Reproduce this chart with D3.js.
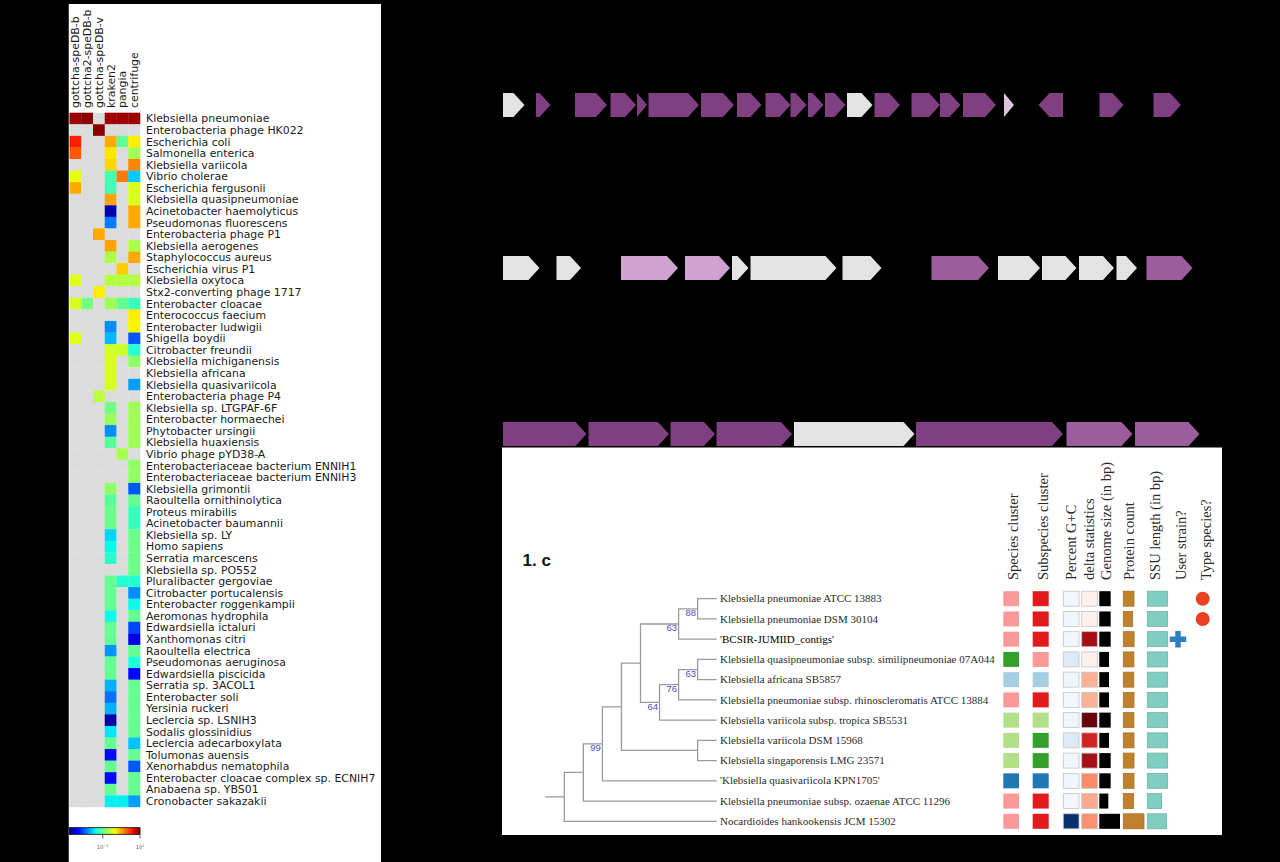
<!DOCTYPE html>
<html>
<head>
<meta charset="utf-8">
<title>Figure 1</title>
<script src="https://d3js.org/d3.v7.min.js"></script>
<style>
body { margin: 0; background: #000; }
</style>
</head>
<body>
<script>
// ---------- heatmap data (log10 relative abundance, null = not detected) ----------
const n = null;
const methods = ["gottcha-speDB-b", "gottcha2-speDB-b", "gottcha-speDB-v", "kraken2", "pangia", "centrifuge"];
const species = [
  "Klebsiella pneumoniae", "Enterobacteria phage HK022", "Escherichia coli", "Salmonella enterica",
  "Klebsiella variicola", "Vibrio cholerae", "Escherichia fergusonii", "Klebsiella quasipneumoniae",
  "Acinetobacter haemolyticus", "Pseudomonas fluorescens", "Enterobacteria phage P1", "Klebsiella aerogenes",
  "Staphylococcus aureus", "Escherichia virus P1", "Klebsiella oxytoca", "Stx2-converting phage 1717",
  "Enterobacter cloacae", "Enterococcus faecium", "Enterobacter ludwigii", "Shigella boydii",
  "Citrobacter freundii", "Klebsiella michiganensis", "Klebsiella africana", "Klebsiella quasivariicola",
  "Enterobacteria phage P4", "Klebsiella sp. LTGPAF-6F", "Enterobacter hormaechei", "Phytobacter ursingii",
  "Klebsiella huaxiensis", "Vibrio phage pYD38-A", "Enterobacteriaceae bacterium ENNIH1", "Enterobacteriaceae bacterium ENNIH3",
  "Klebsiella grimontii", "Raoultella ornithinolytica", "Proteus mirabilis", "Acinetobacter baumannii",
  "Klebsiella sp. LY", "Homo sapiens", "Serratia marcescens", "Klebsiella sp. PO552",
  "Pluralibacter gergoviae", "Citrobacter portucalensis", "Enterobacter roggenkampii", "Aeromonas hydrophila",
  "Edwardsiella ictaluri", "Xanthomonas citri", "Raoultella electrica", "Pseudomonas aeruginosa",
  "Edwardsiella piscicida", "Serratia sp. 3ACOL1", "Enterobacter soli", "Yersinia ruckeri",
  "Leclercia sp. LSNIH3", "Sodalis glossinidius", "Leclercia adecarboxylata", "Tolumonas auensis",
  "Xenorhabdus nematophila", "Enterobacter cloacae complex sp. ECNIH7", "Anabaena sp. YBS01", "Cronobacter sakazakii"
];
const gottchaB = [
  1.85, n, 1.32, 0.97, n, -0.11, 0.46, n, n, n,
  n, n, n, n, -0.15, n, -0.2, n, n, -0.15,
  n, n, n, n, n, n, n, n, n, n,
  n, n, n, n, n, n, n, n, n, n,
  n, n, n, n, n, n, n, n, n, n,
  n, n, n, n, n, n, n, n, n, n
];
const gottcha2B = [
  1.95, n, n, n, n, n, n, n, n, n,
  n, n, n, n, n, n, -0.9, n, n, n,
  n, n, n, n, n, n, n, n, n, n,
  n, n, n, n, n, n, n, n, n, n,
  n, n, n, n, n, n, n, n, n, n,
  n, n, n, n, n, n, n, n, n, n
];
const gottchaV = [
  n, 1.95, n, n, n, n, n, n, n, n,
  0.46, n, n, n, n, 0.05, n, n, n, n,
  n, n, n, n, -0.4, n, n, n, n, n,
  n, n, n, n, n, n, n, n, n, n,
  n, n, n, n, n, n, n, n, n, n,
  n, n, n, n, n, n, n, n, n, n
];
const kraken2 = [
  1.85, n, 0.46, 0.10, 0.2, -1.2, -1.25, 0.5, -3.45, -2.3,
  n, 0.5, -0.5, n, -0.45, n, -0.6, n, -2.2, -1.95,
  -0.25, -0.2, -0.2, -0.2, n, -0.9, -0.65, -2.2, -1.1, n,
  n, n, -0.7, -1.1, -0.95, -0.95, -1.8, -1.6, -1.4, n,
  -1.0, -1.0, -1.0, -1.6, -1.0, -1.0, -2.15, -1.0, -1.0, -2.0,
  -2.35, -2.0, -3.5, -1.7, -1.0, -2.95, -1.0, -2.95, -1.0, -1.65
];
const pangia = [
  1.85, n, -1.02, n, n, 0.75, n, n, n, n,
  n, n, n, 0.25, -0.45, n, -1.0, n, n, n,
  -0.3, n, n, n, n, n, n, n, n, -0.55,
  n, n, n, n, n, n, n, n, n, n,
  -1.45, n, n, n, n, n, n, n, n, n,
  n, n, n, n, n, n, n, n, n, -1.65
];
const centrifuge = [
  1.85, n, 0.05, -0.57, 0.69, -1.85, -0.2, -0.2, 0.46, 0.46,
  n, -0.5, 0.46, n, -0.45, n, -1.3, 0.05, 0.0, -2.5,
  -1.45, -0.7, n, -2.1, n, -0.6, -0.6, -0.6, -0.6, n,
  -0.7, -0.7, -2.5, -1.0, -1.3, -1.3, -0.95, -0.95, -0.95, -0.95,
  -1.45, -2.2, -1.6, -1.0, -2.6, -3.2, -1.0, -1.5, -2.95, -1.0,
  -1.0, -1.0, -1.0, -1.0, -1.9, -1.0, -2.5, -1.0, -1.0, -2.1
];
const colorDomain = [-3.7, 2];
const colorTicks = [-1, 2];

// ---------- gene neighbourhood data: [start, end, strand, class] ----------
const genesRow1 = [
  [0, 430, 1, "grey"], [660, 950, 1, "dark"], [1440, 2080, 1, "dark"], [2150, 2660, 1, "dark"],
  [2680, 2880, 1, "dark"], [2910, 3920, 1, "dark"], [3960, 4620, 1, "dark"], [4680, 5170, 1, "dark"],
  [5250, 5750, 1, "dark"], [5750, 6070, 1, "dark"], [6100, 6410, 1, "dark"], [6440, 6850, 1, "dark"],
  [6880, 7390, 1, "grey"], [7430, 7940, 1, "dark"], [8170, 8740, 1, "dark"], [8740, 9150, 1, "dark"],
  [9200, 9860, 1, "dark"], [10020, 10220, 1, "pale"], [10710, 11200, -1, "dark"], [11930, 12410, 1, "dark"],
  [13010, 13560, 1, "dark"]
];
const genesRow2 = [
  [0, 730, 1, "grey"], [1070, 1560, 1, "grey"], [2360, 3500, 1, "light"], [3640, 4540, 1, "light"],
  [4580, 4910, 1, "grey"], [4950, 6670, 1, "grey"], [6790, 7570, 1, "grey"], [8570, 9720, 1, "mid"],
  [9900, 10740, 1, "grey"], [10780, 11470, 1, "grey"], [11520, 12220, 1, "grey"], [12270, 12680, 1, "grey"],
  [12870, 13790, 1, "mid"]
];
const genesRow3 = [
  [0, 1670, 1, "dark"], [1710, 3320, 1, "dark"], [3350, 4240, 1, "dark"], [4270, 5780, 1, "dark"],
  [5820, 8230, 1, "grey"], [8260, 11200, 1, "dark"], [11270, 12590, 1, "mid"], [12640, 13930, 1, "mid"]
];
const geneClasses = ["dark", "mid", "light", "pale", "grey"];
const geneColors = ["#7f3f80", "#9b5d9c", "#cfa2cf", "#dcc2dc", "#e3e3e3"];

// ---------- phylogeny data ----------
const L = name => ({ name: name });
const treeData = { children: [
  { children: [
    { boot: 99, children: [
      { children: [
        { children: [
          { boot: 63, children: [
            { boot: 88, children: [L("Klebsiella pneumoniae ATCC 13883"), L("Klebsiella pneumoniae DSM 30104")] },
            L("'BCSIR-JUMIID_contigs'")
          ] },
          { boot: 64, children: [
            { boot: 76, children: [
              { boot: 63, children: [L("Klebsiella quasipneumoniae subsp. similipneumoniae 07A044"), L("Klebsiella africana SB5857")] },
              L("Klebsiella pneumoniae subsp. rhinoscleromatis ATCC 13884")
            ] },
            L("Klebsiella variicola subsp. tropica SB5531")
          ] }
        ] },
        { children: [L("Klebsiella variicola DSM 15968"), L("Klebsiella singaporensis LMG 23571")] }
      ] },
      L("'Klebsiella quasivariicola KPN1705'")
    ] },
    L("Klebsiella pneumoniae subsp. ozaenae ATCC 11296")
  ] },
  L("Nocardioides hankookensis JCM 15302")
] };
const metaHeaders = ["Species cluster", "Subspecies cluster", "Percent G+C", "delta statistics",
  "Genome size (in bp)", "Protein count", "SSU length (in bp)", "User strain?", "Type species?"];
const speciesCluster = [4, 4, 4, 3, 0, 4, 2, 2, 2, 1, 4, 4];
const subspeciesCluster = [5, 5, 5, 4, 0, 5, 2, 3, 3, 1, 5, 5];
const gcContent = [56.5, 56.6, 56.5, 58.2, 56.7, 56.5, 56.6, 58.2, 56.7, 56.6, 56.5, 73.0];
const deltaStat = [0.02, 0.03, 0.86, 0.03, 0.28, 0.28, 1.0, 0.72, 0.86, 0.40, 0.30, 0.38];
const genomeSize = [5.5, 5.5, 5.5, 4.7, 4.7, 4.7, 5.5, 4.7, 5.5, 5.5, 4.35, 10.0];
const proteinCount = [5300, 4650, 5350, 5250, 5200, 5300, 5250, 5300, 5300, 5300, 5100, 10250];
const ssuLength = [1520, 1520, 1520, 1520, 1520, 1520, 1520, 1520, 1520, 1520, 1070, 1445];
const userStrain = [0, 0, 1, 0, 0, 0, 0, 0, 0, 0, 0, 0];
const typeSpecies = [1, 1, 0, 0, 0, 0, 0, 0, 0, 0, 0, 0];

// ---------- canvas ----------
const svg = d3.select("body").append("svg")
  .attr("width", 1280).attr("height", 862)
  .style("display", "block");
svg.append("rect").attr("width", 1280).attr("height", 862).attr("fill", "#000");

// jet colormap (matplotlib)
const jetR = d3.scaleLinear().domain([0, 0.35, 0.66, 0.89, 1]).range([0, 0, 1, 1, 0.5]).clamp(true);
const jetG = d3.scaleLinear().domain([0, 0.125, 0.375, 0.64, 0.91, 1]).range([0, 0, 1, 1, 0, 0]).clamp(true);
const jetB = d3.scaleLinear().domain([0, 0.11, 0.34, 0.65, 1]).range([0.5, 1, 1, 0, 0]).clamp(true);
function jet(t) { return d3.rgb(jetR(t) * 255, jetG(t) * 255, jetB(t) * 255).formatHex(); }
const tScale = d3.scaleLinear().domain(colorDomain).range([0, 1]).clamp(true);

// ---------- left panel: heatmap ----------
const defs = svg.append("defs");
defs.append("clipPath").attr("id", "leftclip")
  .append("rect").attr("x", 68.5).attr("y", 4).attr("width", 312.5).attr("height", 858);

const left = svg.append("g").attr("clip-path", "url(#leftclip)");
left.append("rect").attr("x", 68.5).attr("y", 4).attr("width", 312.5).attr("height", 858).attr("fill", "#fff");

const hx = d3.scaleBand().domain(methods).range([69.5, 140]);
const hy = d3.scaleBand().domain(species).range([112.7, 806.9]);
const columns = [gottchaB, gottcha2B, gottchaV, kraken2, pangia, centrifuge];

const cells = [];
species.forEach((s, i) => columns.forEach((col, j) => cells.push({ s: s, m: methods[j], v: col[i] })));

left.append("g").selectAll("rect")
  .data(cells)
  .join("rect")
  .attr("x", d => hx(d.m))
  .attr("y", d => hy(d.s))
  .attr("width", hx.bandwidth() + 0.3)
  .attr("height", hy.bandwidth() + 0.3)
  .attr("fill", d => d.v == null ? "#dcdcdc" : jet(tScale(d.v)));

left.append("g").selectAll("text")
  .data(species)
  .join("text")
  .attr("x", 146)
  .attr("y", d => hy(d) + hy.bandwidth() / 2)
  .attr("dy", "0.36em")
  .attr("font-family", "DejaVu Sans")
  .attr("font-size", 10.9)
  .attr("fill", "#1a1a1a")
  .text(d => d);

left.append("g").selectAll("text")
  .data(methods)
  .join("text")
  .attr("transform", d => "translate(" + (hx(d) + hx.bandwidth() / 2 + 4) + ",108) rotate(-90)")
  .attr("font-family", "DejaVu Sans")
  .attr("font-size", 10.9)
  .attr("fill", "#1a1a1a")
  .text(d => d);

// colour bar
const grad = defs.append("linearGradient").attr("id", "jetgrad");
grad.selectAll("stop")
  .data(d3.range(0, 1.0001, 0.02))
  .join("stop")
  .attr("offset", d => d)
  .attr("stop-color", d => jet(d));
const cbx = d3.scaleLinear().domain(colorDomain).range([69.3, 140]);
left.append("rect")
  .attr("x", cbx(colorDomain[0])).attr("y", 827.7)
  .attr("width", cbx(colorDomain[1]) - cbx(colorDomain[0])).attr("height", 6.6)
  .attr("fill", "url(#jetgrad)")
  .attr("stroke", "#000").attr("stroke-width", 0.8);
const cbt = left.append("g").selectAll("g")
  .data(colorTicks)
  .join("g")
  .attr("transform", d => "translate(" + cbx(d) + ",0)");
cbt.append("line").attr("y1", 834.3).attr("y2", 838.5).attr("stroke", "#333").attr("stroke-width", 0.8);
const cbl = cbt.append("text")
  .attr("y", 849)
  .attr("text-anchor", "middle")
  .attr("font-family", "DejaVu Sans")
  .attr("font-size", 5)
  .attr("fill", "#555");
cbl.append("tspan").text("10");
cbl.append("tspan").attr("dy", -2.5).attr("font-size", 3.5).text(d => d < 0 ? "\u2212" + (-d) : d);

// ---------- gene neighbourhoods ----------
const gx = d3.scaleLinear().domain([0, 14000]).range([503, 1203]);
const geneColor = d3.scaleOrdinal().domain(geneClasses).range(geneColors);
const rowTops = [93, 256, 422];
const geneH = 24;

function arrowPath(d, top) {
  let x0 = gx(d[0]), x1 = gx(d[1]);
  const head = Math.min(11, x1 - x0);
  const b = top + geneH, m = top + geneH / 2;
  if (d[2] >= 0) {
    return "M" + x0 + "," + top + "L" + (x1 - head) + "," + top + "L" + x1 + "," + m +
      "L" + (x1 - head) + "," + b + "L" + x0 + "," + b + "Z";
  }
  return "M" + x1 + "," + top + "L" + (x0 + head) + "," + top + "L" + x0 + "," + m +
    "L" + (x0 + head) + "," + b + "L" + x1 + "," + b + "Z";
}

[genesRow1, genesRow2, genesRow3].forEach((row, r) => {
  svg.append("g").selectAll("path")
    .data(row)
    .join("path")
    .attr("d", d => arrowPath(d, rowTops[r]))
    .attr("fill", d => geneColor(d[3]));
});

// ---------- tree panel ----------
const tp = svg.append("g");
tp.append("rect").attr("x", 502).attr("y", 447.5).attr("width", 720).attr("height", 387.5).attr("fill", "#fff");

tp.append("text")
  .attr("x", 522.5).attr("y", 566)
  .attr("font-family", "Liberation Sans").attr("font-weight", "bold").attr("font-size", 17)
  .attr("fill", "#111")
  .text("1. c");

const root = d3.hierarchy(treeData);
const leaves = root.leaves();
const ty = d3.scalePoint().domain(leaves.map(d => d.data.name)).range([598.7, 821.3]);
const tx = d3.scaleLinear().domain([root.height, 0]).range([564.3, 716.7]);
root.eachAfter(d => {
  d.px = tx(d.height);
  d.py = d.children ? (d.children[0].py + d.children[d.children.length - 1].py) / 2 : ty(d.data.name);
});

const links = root.descendants().filter(d => d.parent);
tp.append("g").selectAll("path")
  .data(links)
  .join("path")
  .attr("d", d => "M" + d.parent.px + "," + d.parent.py + "V" + d.py + "H" + d.px)
  .attr("fill", "none")
  .attr("stroke", "#9a9a9a")
  .attr("stroke-width", 1.3);
tp.append("path")
  .attr("d", "M" + tx(root.height + 1) + "," + root.py + "H" + root.px)
  .attr("stroke", "#9a9a9a").attr("stroke-width", 1.3);

tp.append("g").selectAll("text")
  .data(root.descendants().filter(d => d.data.boot))
  .join("text")
  .attr("x", d => d.px - 1.5)
  .attr("y", d => d.py + 4)
  .attr("dy", "0.35em")
  .attr("text-anchor", "end")
  .attr("font-family", "Liberation Sans")
  .attr("font-size", 9.5)
  .attr("fill", "#4b4bd2")
  .text(d => d.data.boot);

tp.append("g").selectAll("text")
  .data(leaves)
  .join("text")
  .attr("x", 720)
  .attr("y", d => d.py)
  .attr("dy", "0.33em")
  .attr("font-family", "Liberation Serif")
  .attr("font-size", 11)
  .attr("fill", d => d.data.name.startsWith("'BCSIR") ? "#000" : "#2b2b2b")
  .text(d => d.data.name);

// metadata columns
const headerX = [1018, 1047.5, 1076, 1094, 1111, 1134, 1160, 1186, 1211];
tp.append("g").selectAll("text")
  .data(metaHeaders)
  .join("text")
  .attr("transform", (d, i) => "translate(" + headerX[i] + ",580) rotate(-90)")
  .attr("font-family", "Liberation Serif")
  .attr("font-size", 14.5)
  .attr("fill", "#2b2b2b")
  .text(d => d);

const rows = leaves.map((d, i) => ({ y: d.py, i: i }));
const cellH = 15;
const gcColor = d3.scaleSequential(d3.interpolateBlues).domain([56, 73]);
const deltaColor = d3.scaleSequential(d3.interpolateReds).domain([0, 1]);
const genomeW = d3.scaleLinear().domain([0, 10]).range([0, 20.7]);
const proteinW = d3.scaleLinear().domain([0, 10250]).range([0, 20.7]);
const ssuW = d3.scaleLinear().domain([0, 1550]).range([0, 20.7]);

function cellColumn(x, width, fill, stroke) {
  tp.append("g").selectAll("rect")
    .data(rows)
    .join("rect")
    .attr("x", x)
    .attr("y", d => d.y - cellH / 2)
    .attr("width", width)
    .attr("height", cellH)
    .attr("fill", fill)
    .attr("stroke", stroke)
    .attr("stroke-width", 0.8);
}
cellColumn(1003.3, 15.7, d => d3.schemePaired[speciesCluster[d.i]], "none");
cellColumn(1032.7, 16, d => d3.schemePaired[subspeciesCluster[d.i]], "none");
cellColumn(1063.3, 15.7, d => gcColor(gcContent[d.i]), "#c4c4c4");
cellColumn(1081.7, 15.6, d => deltaColor(deltaStat[d.i]), "#c4c4c4");
cellColumn(1099.3, d => genomeW(genomeSize[d.i]), "#000", "none");
cellColumn(1123.3, d => proteinW(proteinCount[d.i]), "#bf812d", "#a87024");
cellColumn(1147.3, d => ssuW(ssuLength[d.i]), "#80cdc1", "#6fb2a8");

tp.append("g").selectAll("path")
  .data(rows.filter(d => userStrain[d.i]))
  .join("path")
  .attr("transform", d => "translate(1178," + d.y + ")")
  .attr("d", d3.symbol(d3.symbolCross, 150))
  .attr("fill", "#2f7fc1");

tp.append("g").selectAll("circle")
  .data(rows.filter(d => typeSpecies[d.i]))
  .join("circle")
  .attr("cx", 1202.7)
  .attr("cy", d => d.y)
  .attr("r", 7)
  .attr("fill", "#ec4121");
</script>
</body>
</html>
